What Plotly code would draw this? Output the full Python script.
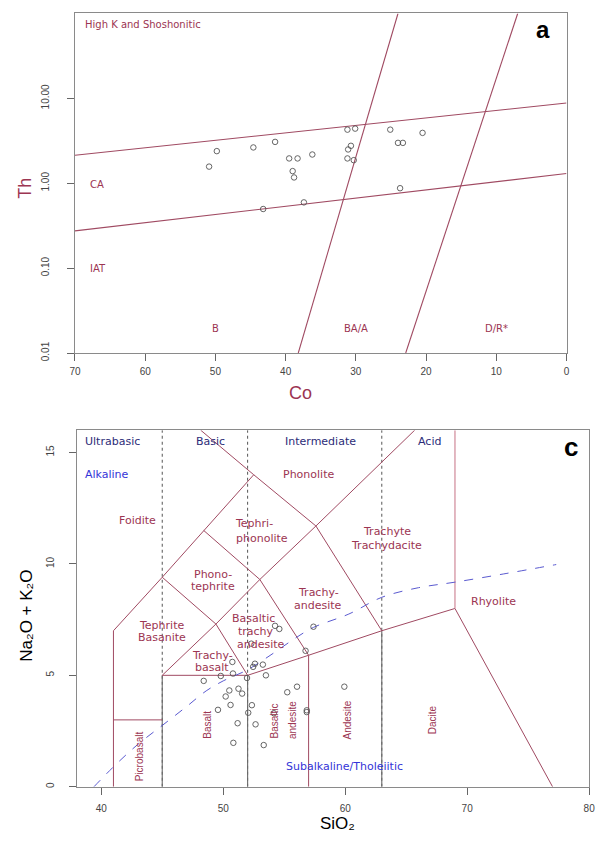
import plotly.graph_objects as go

W, H = 602, 841

# ---------------- Panel a : Th vs Co ----------------
co_vals = [50.9, 49.8, 44.6, 41.5, 39.5, 38.3, 36.2, 39.0, 38.8, 37.4, 43.2,
           31.2, 30.1, 31.1, 30.7, 31.2, 30.3, 25.1, 24.0, 23.3, 20.5, 23.7]
th_vals = [1.57, 2.39, 2.64, 3.07, 1.96, 1.96, 2.18, 1.39, 1.17, 0.595, 0.497,
           4.28, 4.40, 2.50, 2.76, 1.96, 1.87, 4.28, 2.99, 2.99, 3.92, 0.874]

# boundary lines of the Co-Th diagram (end points)
upper_co = [70, 0]
upper_th = [2.14, 8.8]
lower_co = [70, 0]
lower_th = [0.275, 1.30]
steep1_co = [38.2, 24.0]
steep1_th = [0.01, 100]
steep2_co = [22.9, 6.95]
steep2_th = [0.01, 100]

co_ticks = [70, 60, 50, 40, 30, 20, 10, 0]
th_ticks = [0.01, 0.1, 1, 10]
th_ticktext = ["0.01", "0.10", "1.00", "10.00"]

# ---------------- Panel c : TAS ----------------
sio2_vals = [48.4, 49.8, 50.8, 50.75, 51.95, 52.45, 52.6, 53.25, 53.5, 52.3,
             54.25, 54.6, 57.4, 56.75, 50.5, 51.25, 51.55, 50.2, 50.6, 49.57,
             52.35, 52.05, 51.18, 52.65, 50.83, 53.32, 55.25, 56.05, 56.85,
             56.85, 59.93, 54.15]
alk_vals = [4.75, 4.97, 5.08, 5.6, 4.88, 5.38, 5.52, 5.48, 5.0, 6.42,
            7.22, 7.08, 7.18, 6.1, 4.32, 4.4, 4.18, 4.05, 3.67, 3.45,
            3.66, 3.32, 2.85, 2.8, 1.97, 1.87, 4.24, 4.49, 3.43,
            3.35, 4.49, 3.3]

# TAS field boundaries (polylines)
tas_red_lines = [
    [(41, 0), (41, 7), (45, 9.4), (48.4, 11.5), (52.5, 14)],
    [(41, 3), (45, 3)],
    [(45, 5), (52, 5), (57, 5.9), (63, 7), (69, 8), (77, 0)],
    [(45, 5), (49.4, 7.3), (53, 9.3), (57.6, 11.7), (65.7, 16)],
    [(45, 9.4), (49.4, 7.3), (52, 5)],
    [(48.4, 11.5), (53, 9.3), (57, 5.9), (57, 0)],
    [(48.15, 16), (52.5, 14), (57.6, 11.7), (63, 7)],
]
tas_pink_lines = [[(69, 8), (69, 16)]]
tas_gray_lines = [[(45, 0), (45, 5)], [(52, 0), (52, 5)], [(63, 0), (63, 7)]]
tas_dashed_x = [45, 52, 63]

# Irvine & Baragar alkaline / subalkaline divide
ib_sio2 = [39.4, 41.2, 43, 45, 47, 48.6, 50, 52, 54, 56, 57.4, 60.3, 63, 66, 69, 73, 77.3]
ib_alk = [0, 1.0, 1.9, 2.75, 3.6, 4.3, 4.75, 5.25, 5.95, 6.7, 7.15, 7.75, 8.5, 8.93, 9.18, 9.55, 9.97]

sio2_ticks = [40, 50, 60, 70, 80]
alk_ticks = [0, 5, 10, 15]

MAROON = "#9c3552"
LINE = "#a04a62"
BLUE_T = "#3434d8"
NAVY_T = "#2c2c78"
FONT = "Liberation Sans, Arial, DejaVu Sans, sans-serif"
WIDE = "DejaVu Sans, Verdana, sans-serif"


def polyline(segs):
    xs, ys = [], []
    for s in segs:
        for (a, b) in s:
            xs.append(a)
            ys.append(b)
        xs.append(None)
        ys.append(None)
    return xs, ys


fig = go.Figure()

# panel a lines
for cx, ty in [(upper_co, upper_th), (lower_co, lower_th),
               (steep1_co, steep1_th), (steep2_co, steep2_th)]:
    fig.add_trace(go.Scatter(x=cx, y=ty, mode="lines", xaxis="x", yaxis="y",
                             line=dict(color=LINE, width=1.1), hoverinfo="skip",
                             showlegend=False))
fig.add_trace(go.Scatter(x=co_vals, y=th_vals, mode="markers", xaxis="x", yaxis="y",
                         marker=dict(symbol="circle-open", size=5.5, color="#555555",
                                     line=dict(width=0.9)),
                         showlegend=False))

# panel c lines
for xv in tas_dashed_x:
    fig.add_trace(go.Scatter(x=[xv, xv], y=[0, 16], mode="lines", xaxis="x2", yaxis="y2",
                             line=dict(color="#555555", width=1, dash="dot"),
                             hoverinfo="skip", showlegend=False))
gx, gy = polyline(tas_gray_lines)
fig.add_trace(go.Scatter(x=gx, y=gy, mode="lines", xaxis="x2", yaxis="y2",
                         line=dict(color="#6a6a6a", width=1.1), hoverinfo="skip",
                         showlegend=False))
rx, ry = polyline(tas_red_lines)
fig.add_trace(go.Scatter(x=rx, y=ry, mode="lines", xaxis="x2", yaxis="y2",
                         line=dict(color=LINE, width=1), hoverinfo="skip",
                         showlegend=False))
px_, py_ = polyline(tas_pink_lines)
fig.add_trace(go.Scatter(x=px_, y=py_, mode="lines", xaxis="x2", yaxis="y2",
                         line=dict(color="#d08898", width=1.2), hoverinfo="skip",
                         showlegend=False))
fig.add_trace(go.Scatter(x=ib_sio2, y=ib_alk, mode="lines", xaxis="x2", yaxis="y2",
                         line=dict(color="#5a5ad0", width=1, dash="dash"),
                         line_shape="spline", hoverinfo="skip", showlegend=False))
fig.add_trace(go.Scatter(x=sio2_vals, y=alk_vals, mode="markers", xaxis="x2", yaxis="y2",
                         marker=dict(symbol="circle-open", size=5.5, color="#555555",
                                     line=dict(width=0.9)),
                         showlegend=False))

axis_common = dict(showline=True, mirror=True, linecolor="#8a8a8a", linewidth=1,
                   ticks="outside", ticklen=7, tickcolor="#666666",
                   tickfont=dict(family=FONT, size=10, color="#444444"),
                   showgrid=False, zeroline=False)

fig.update_layout(
    width=W, height=H, autosize=False,
    margin=dict(l=0, r=0, t=0, b=0),
    paper_bgcolor="white", plot_bgcolor="white",
    xaxis=dict(domain=[70.4 / W, 571.9 / W], range=[70, 0], anchor="y",
               tickvals=co_ticks, ticklabelstandoff=2, **axis_common),
    yaxis=dict(domain=[1 - 356.4 / H, 1 - 13.6 / H], type="log", range=[-2, 2],
               anchor="x", tickvals=th_ticks, ticktext=th_ticktext, tickangle=-90,
               ticklabelstandoff=14, **axis_common),
    xaxis2=dict(domain=[72.3 / W, 595 / W], range=[38, 80], anchor="y2",
                tickvals=sio2_ticks, ticklabelstandoff=5, **axis_common),
    yaxis2=dict(domain=[1 - 794.3 / H, 1 - 434.3 / H], range=[0, 16], anchor="x2",
                tickvals=alk_ticks, tickangle=-90, ticklabelstandoff=11, **axis_common),
)

ann = []


def t(text, x, y, xr, yr, color=MAROON, size=10, xanchor="center", angle=0, bold=False,
      yanchor="middle", family=FONT):
    ann.append(dict(text=("<b>%s</b>" % text) if bold else text, x=x, y=y, xref=xr, yref=yr,
                    showarrow=False, xanchor=xanchor, yanchor=yanchor, textangle=angle,
                    font=dict(family=family, size=size, color=color)))


def w(text, x, y, color=MAROON):
    t(text, x, y, "x2", "y2", color=color, size=11, family=WIDE)


# panel a labels (log axis -> y in log10 units)
t("High K and Shoshonitic", 68.9, 1.87, "x", "y", size=10, xanchor="left", family=WIDE)
t("CA", 68.2, -0.01, "x", "y", size=10, xanchor="left", family=WIDE)
t("IAT", 68.2, -1.01, "x", "y", size=10, xanchor="left", family=WIDE)
t("B", 50, -1.71, "x", "y", family=WIDE)
t("BA/A", 30, -1.71, "x", "y", family=WIDE)
t("D/R*", 10, -1.71, "x", "y", family=WIDE)
t("a", 548 / W, 1 - 30 / H, "paper", "paper", color="black", size=24, bold=True)
t("Co", 300 / W, 1 - 397 / H, "paper", "paper", size=18)
t("Th", 20 / W, 1 - 190 / H, "paper", "paper", size=18, angle=-90)

# panel c labels
w("Ultrabasic", 40.9, 15.5, NAVY_T)
w("Basic", 48.95, 15.5, NAVY_T)
w("Intermediate", 58.0, 15.5, NAVY_T)
w("Acid", 66.9, 15.5, NAVY_T)
w("Alkaline", 40.5, 14.0, BLUE_T)
w("Foidite", 43.0, 11.95)
w("Phonolite", 57.0, 14.0)
w("Tephri-", 52.55, 11.8)
w("phonolite", 53.2, 11.15)
w("Trachyte", 63.4, 11.45)
w("Trachydacite", 63.4, 10.83)
w("Phono-", 49.2, 9.52)
w("tephrite", 49.2, 9.0)
w("Trachy-", 57.8, 8.7)
w("andesite", 57.8, 8.15)
w("Tephrite", 44.95, 7.23)
w("Basanite", 44.95, 6.68)
w("Basaltic", 52.5, 7.57)
w("trachy", 52.7, 6.96)
w("andesite", 53.1, 6.37)
w("Trachy-", 49.1, 5.87)
w("basalt", 49.1, 5.35)
w("Rhyolite", 72.2, 8.3)
w("Subalkaline/Tholeiitic", 59.96, 0.93, BLUE_T)
t("Picrobasalt", 43.2, 1.38, "x2", "y2", angle=-90, size=10)
t("Basalt", 48.75, 2.78, "x2", "y2", angle=-90, size=10)
t("Basaltic", 54.17, 2.93, "x2", "y2", angle=-90, size=10)
t("andesite", 55.73, 3.0, "x2", "y2", angle=-90, size=10)
t("Andesite", 60.2, 3.0, "x2", "y2", angle=-90, size=10)
t("Dacite", 67.23, 3.0, "x2", "y2", angle=-90, size=10)
t("c", 577 / W, 1 - 451 / H, "paper", "paper", color="black", size=26, bold=True)
t("SiO\u2082", 338 / W, 1 - 831 / H, "paper", "paper", color="black", size=17)
t("Na\u2082O + K\u2082O", 20 / W, 1 - 622 / H, "paper", "paper",
  color="black", size=17, angle=-90)

fig.update_layout(annotations=ann)
fig.write_html("out.html")
